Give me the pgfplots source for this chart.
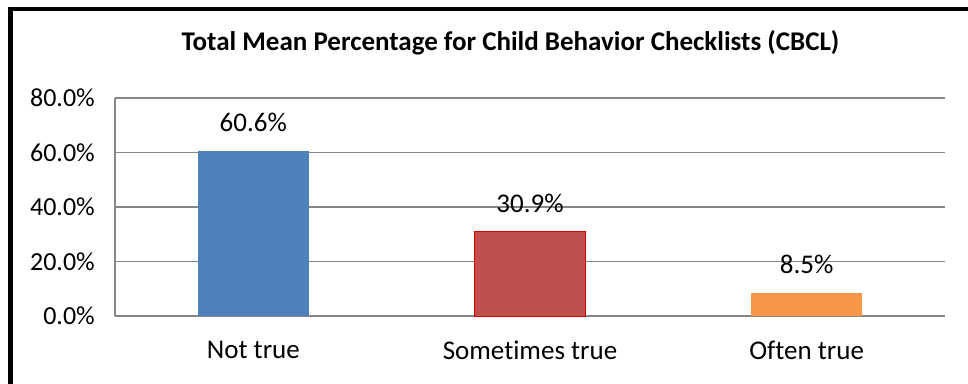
\documentclass[border=0pt]{standalone}
\usepackage{pgfplots}
\pgfplotsset{compat=1.18}
\usepackage{fontspec}
\setmainfont[Ligatures={NoCommon}]{Carlito}
\definecolor{cblue}{HTML}{4F81BD}
\definecolor{cred}{HTML}{C0504D}
\definecolor{credb}{HTML}{D00000}
\definecolor{corange}{HTML}{F79646}
\definecolor{cgrid}{HTML}{868686}
\begin{document}
\begin{tikzpicture}[x=1pt,y=1pt]
\useasboundingbox (0,0) rectangle (968,383);
\draw[line width=4.5pt, line cap=rect] (10.5,-5) -- (10.5,374) -- (975,374);
\node[font=\fontsize{27}{32}\selectfont\bfseries] at (510.5,340) {Total Mean Percentage for Child Behavior Checklists (CBCL)};
\begin{axis}[
  at={(115pt,67pt)}, anchor=south west,
  scale only axis, width=830pt, height=218pt,
  xmin=-0.5, xmax=2.5, ymin=0, ymax=80,
  axis x line=bottom, axis y line=left,
  axis line style={-, cgrid, line width=1.5pt},
  ymajorgrids, grid style={cgrid, line width=1.5pt},
  ytick={0,20,40,60,80},
  yticklabels={0.0\%,20.0\%,40.0\%,60.0\%,80.0\%},
  xtick={0,1,2},
  xticklabels={Not true,Sometimes true,Often true},
  major tick length=0pt,
  tick style={draw=none},
  ticklabel style={font=\fontsize{27}{32}\selectfont},
  yticklabel style={inner sep=0pt, xshift=-20pt, font=\fontsize{26}{31}\selectfont},
  xticklabel style={inner sep=0pt, yshift=-25pt},
  /pgf/number format/assume math mode=true,
  ybar, bar width=111pt, bar shift=0pt,
  nodes near coords={\pgfmathprintnumber[fixed,fixed zerofill,precision=1]{\pgfplotspointmeta}\%},
  every node near coord/.append style={font=\fontsize{27}{32}\selectfont, black, anchor=south, inner sep=0pt, yshift=19pt},
  clip=false,
]
\addplot[fill=cblue, draw=none] coordinates {(0,60.6)};
\addplot[fill=cred, draw=credb, line width=1pt] coordinates {(1,30.9)};
\addplot[fill=corange, draw=none] coordinates {(2,8.5)};
\end{axis}
\end{tikzpicture}
\end{document}
